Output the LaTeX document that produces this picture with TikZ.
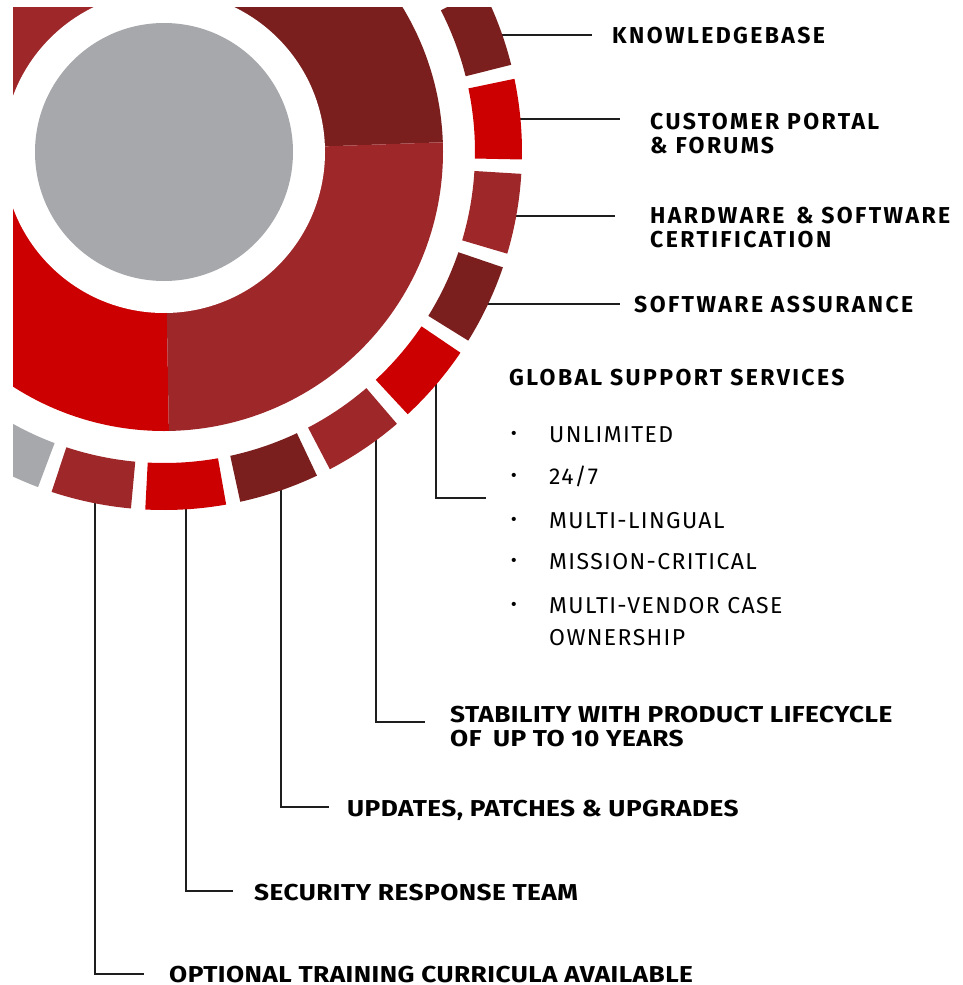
\documentclass[tikz,border=0pt]{standalone}
\usepackage{fontspec}
\setmainfont{Fira Sans}
\newfontfamily\headfont{Fira Sans}[LetterSpace=10.5]
\newfontfamily\condfont{Fira Sans}[LetterSpace=2, FakeStretch=1.14]
\newfontfamily\itemfont{Fira Sans}[LetterSpace=6]
\usepackage{tikz}
\definecolor{ringdark}{HTML}{7A1E1E}
\definecolor{ringbrick}{HTML}{9E272A}
\definecolor{ringred}{HTML}{CC0000}
\definecolor{ringgray}{HTML}{A7A8AC}
\definecolor{leadline}{HTML}{1E1E1E}
\tikzset{
  head/.style={anchor=base west, inner sep=0pt, align=left,
    font=\headfont\bfseries\fontsize{23pt}{24pt}\selectfont},
  cond/.style={anchor=base west, inner sep=0pt, align=left,
    font=\condfont\bfseries\fontsize{23pt}{24pt}\selectfont},
  item/.style={anchor=base west, inner sep=0pt, align=left,
    font=\itemfont\fontsize{23pt}{32pt}\selectfont},
  dot/.style={anchor=base west, inner sep=0pt,
    font=\itemfont\bfseries\fontsize{23pt}{32pt}\selectfont},
  leader/.style={draw=leadline, line width=1.6pt}
}

\begin{document}
\begin{tikzpicture}[x=1pt, y=1pt]
\useasboundingbox (0,0) rectangle (963,-985);
% leader lines (drawn first, the ring covers their inner ends)
\coordinate (kb-s) at (477,-35);   \coordinate (kb-e) at (592,-35);
\coordinate (cp-s) at (496,-119);  \coordinate (cp-e) at (620,-119);
\coordinate (hw-s) at (492,-216);  \coordinate (hw-e) at (615,-216);
\coordinate (sa-s) at (461,-304);  \coordinate (sa-e) at (620,-304);
\coordinate (gs-s) at (436,-350);  \coordinate (gs-e) at (486,-498);
\coordinate (st-s) at (376,-410);  \coordinate (st-e) at (425,-722);
\coordinate (up-s) at (281,-465);  \coordinate (up-e) at (329,-807);
\coordinate (se-s) at (186,-485);  \coordinate (se-e) at (233,-891);
\coordinate (tr-s) at (95,-480);   \coordinate (tr-e) at (144,-974);
\draw [leader] (kb-s) -- (kb-e);
\draw [leader] (cp-s) -- (cp-e);
\draw [leader] (hw-s) -- (hw-e);
\draw [leader] (sa-s) -- (sa-e);
\draw [leader] (gs-s) |- (gs-e);
\draw [leader] (st-s) |- (st-e);
\draw [leader] (up-s) |- (up-e);
\draw [leader] (se-s) |- (se-e);
\draw [leader] (tr-s) |- (tr-e);
% wheel
\begin{scope}
\clip (13,-7) rectangle (963,-985);
\begin{scope}[shift={(164,-152)}]
\fill [ringdark] (0,0) -- (2:279) arc [start angle=2, end angle=90, radius=279] -- cycle;
\fill [ringbrick] (0,0) -- (90:279) arc [start angle=90, end angle=180, radius=279] -- cycle;
\fill [ringred] (0,0) -- (180:279) arc [start angle=180, end angle=271, radius=279] -- cycle;
\fill [ringbrick] (0,0) -- (271:279) arc [start angle=271, end angle=362, radius=279] -- cycle;
\fill [white] (0,0) circle (161);
\fill [ringgray] (0,0) circle (129);
% outer segments
\fill [ringbrick] (42.4:311) arc [start angle=42.4, end angle=29.4, radius=311] -- (29.4:358) arc [start angle=29.4, end angle=42.4, radius=358] -- cycle;
\fill [ringdark] (27.1:311) arc [start angle=27.1, end angle=14.1, radius=311] -- (14.1:358) arc [start angle=14.1, end angle=27.1, radius=358] -- cycle;
\fill [ringred] (11.8:311) arc [start angle=11.8, end angle=-1.2, radius=311] -- (-1.2:358) arc [start angle=-1.2, end angle=11.8, radius=358] -- cycle;
\fill [ringbrick] (-3.5:311) arc [start angle=-3.5, end angle=-16.5, radius=311] -- (-16.5:358) arc [start angle=-16.5, end angle=-3.5, radius=358] -- cycle;
\fill [ringdark] (-18.8:311) arc [start angle=-18.8, end angle=-31.8, radius=311] -- (-31.8:358) arc [start angle=-31.8, end angle=-18.8, radius=358] -- cycle;
\fill [ringred] (-34.1:311) arc [start angle=-34.1, end angle=-47.1, radius=311] -- (-47.1:358) arc [start angle=-47.1, end angle=-34.1, radius=358] -- cycle;
\fill [ringbrick] (-49.4:311) arc [start angle=-49.4, end angle=-62.4, radius=311] -- (-62.4:358) arc [start angle=-62.4, end angle=-49.4, radius=358] -- cycle;
\fill [ringdark] (-64.7:311) arc [start angle=-64.7, end angle=-77.7, radius=311] -- (-77.7:358) arc [start angle=-77.7, end angle=-64.7, radius=358] -- cycle;
\fill [ringred] (-80:311) arc [start angle=-80, end angle=-93, radius=311] -- (-93:358) arc [start angle=-93, end angle=-80, radius=358] -- cycle;
\fill [ringbrick] (-95.3:311) arc [start angle=-95.3, end angle=-108.3, radius=311] -- (-108.3:358) arc [start angle=-108.3, end angle=-95.3, radius=358] -- cycle;
\fill [ringgray] (-110.6:311) arc [start angle=-110.6, end angle=-123.6, radius=311] -- (-123.6:358) arc [start angle=-123.6, end angle=-110.6, radius=358] -- cycle;
\end{scope}
\end{scope}
% labels
\node (kb) [head] at (612,-43) {KNOWLEDGEBASE};
\node (cp) [head] at (650,-153) {CUSTOMER PORTAL\\\& FORUMS};
\node (hw) [head] at (650,-247) {HARDWARE\enspace\& SOFTWARE\\CERTIFICATION};
\node (sa) [head] at (634,-312) {SOFTWARE ASSURANCE};
\node (gs) [head] at (509,-385) {GLOBAL SUPPORT SERVICES};
\node (d1) [dot] at (511,-440) {·};
\node (d2) [dot] at (511,-482) {·};
\node (d3) [dot] at (511,-526) {·};
\node (d4) [dot] at (511,-567) {·};
\node (d5) [dot] at (511,-611) {·};
\node (b1) [item] at (549,-442) {UNLIMITED};
\node (b2) [item] at (549,-484) {24/7};
\node (b3) [item] at (549,-528) {MULTI-LINGUAL};
\node (b4) [item] at (549,-569) {MISSION-CRITICAL};
\node (b5) [item] at (549,-645) {MULTI-VENDOR CASE\\OWNERSHIP};
\node (st) [cond] at (450,-746) {STABILITY WITH PRODUCT LIFECYCLE\\OF\enspace UP TO 10 YEARS};
\node (up) [cond] at (347,-816) {UPDATES, PATCHES \& UPGRADES};
\node (se) [cond] at (254,-900) {SECURITY RESPONSE TEAM};
\node (tr) [cond, text depth=0pt] at (169,-982) {OPTIONAL TRAINING CURRICULA AVAILABLE};
\end{tikzpicture}
\end{document}
